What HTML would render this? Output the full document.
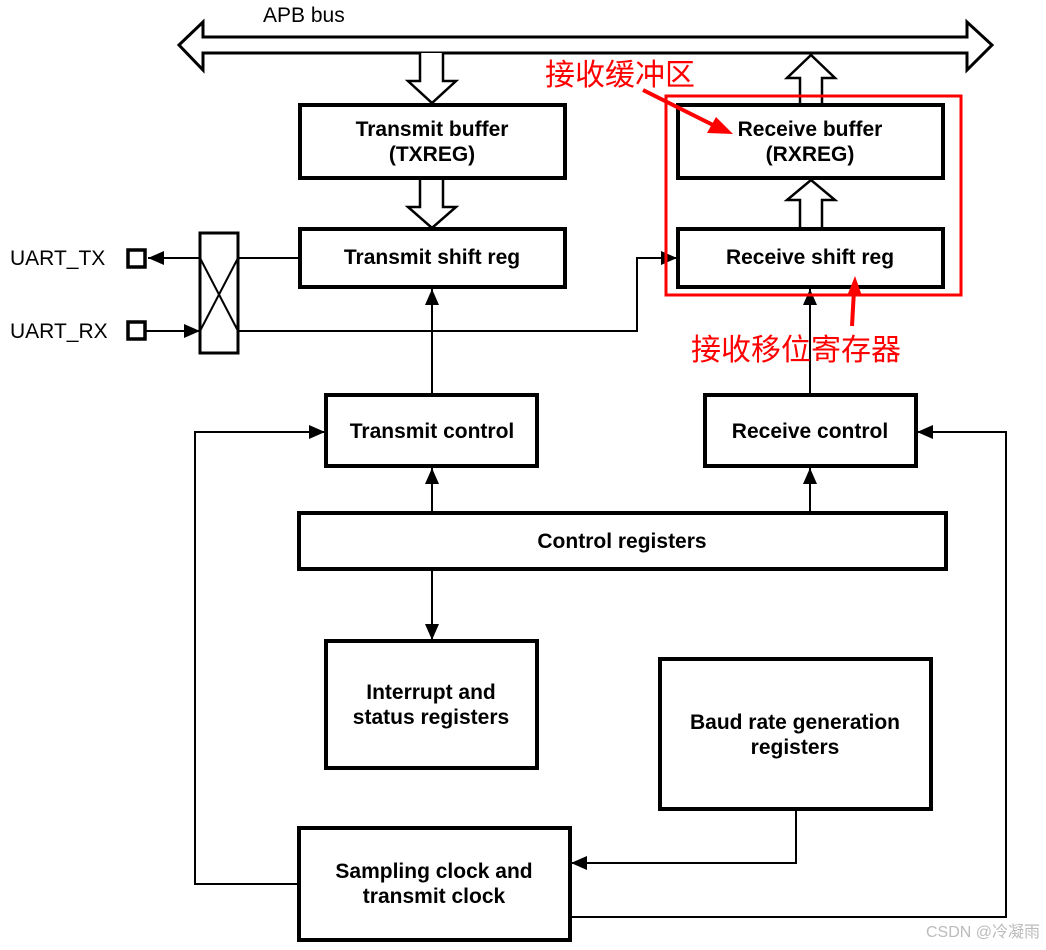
<!DOCTYPE html>
<html><head><meta charset="utf-8"><style>
html,body{margin:0;padding:0;background:#fff;}
svg{display:block;}
.b{font-family:"Liberation Sans",sans-serif;font-weight:bold;font-size:21px;fill:#000;text-anchor:middle;}
.n{font-family:"Liberation Sans",sans-serif;font-size:21px;fill:#000;}
.r{font-family:"Liberation Sans","Noto Sans CJK SC",sans-serif;font-size:30px;fill:#f00;}
</style></head><body>
<svg width="1046" height="950" viewBox="0 0 1046 950" xmlns="http://www.w3.org/2000/svg">
<defs>
<marker id="a" markerWidth="16" markerHeight="14" refX="16" refY="7" orient="auto" markerUnits="userSpaceOnUse" viewBox="0 0 16 14"><path d="M0,0 L16,7 L0,14 z" fill="#000"/></marker>
</defs>
<rect width="1046" height="950" fill="#fff"/>
<text x="263" y="22" class="n">APB bus</text>
<path d="M179,45 L203,22 L203,37 L967,37 L967,22 L992,45 L967,70 L967,53 L203,53 L203,70 Z" fill="#fff" stroke="#000" stroke-width="3"/>
<path d="M420,53 L420,81 L408,81 L432,103 L456,81 L443,81 L443,53" fill="#fff" stroke="#000" stroke-width="2.5"/>
<path d="M420,179 L420,207 L408,207 L432,228 L456,207 L443,207 L443,179" fill="#fff" stroke="#000" stroke-width="2.5"/>
<path d="M800,105 L800,78 L787,78 L811,55 L835,78 L822,78 L822,105" fill="#fff" stroke="#000" stroke-width="2.5"/>
<path d="M800,229 L800,200 L787,200 L811,180 L835,200 L822,200 L822,229" fill="#fff" stroke="#000" stroke-width="2.5"/>
<g fill="#fff" stroke="#000" stroke-width="4">
<rect x="300" y="105" width="265" height="73"/>
<rect x="300" y="229" width="265" height="58"/>
<rect x="678" y="105" width="265" height="73"/>
<rect x="678" y="229" width="265" height="58"/>
<rect x="326" y="395" width="211" height="71"/>
<rect x="705" y="395" width="211" height="71"/>
<rect x="299" y="513" width="647" height="56"/>
<rect x="326" y="641" width="211" height="127"/>
<rect x="660" y="659" width="271" height="150"/>
<rect x="299" y="828" width="271" height="112"/>
<rect x="128" y="250" width="17" height="17" stroke-width="3.5"/>
<rect x="128" y="322" width="17" height="17" stroke-width="3.5"/>
<rect x="200" y="233" width="38" height="120" stroke-width="3"/>
</g>
<g stroke="#000" stroke-width="2" fill="none">
<line x1="200" y1="258" x2="238" y2="331"/>
<line x1="238" y1="258" x2="200" y2="331"/>
<line x1="300" y1="258" x2="238" y2="258"/>
<line x1="200" y1="258" x2="148" y2="258" marker-end="url(#a)"/>
<line x1="146" y1="331" x2="200" y2="331" marker-end="url(#a)"/>
<polyline points="238,331 637,331 637,258 677,258" marker-end="url(#a)"/>
<line x1="432" y1="395" x2="432" y2="289" marker-end="url(#a)"/>
<line x1="810" y1="395" x2="810" y2="289" marker-end="url(#a)"/>
<line x1="432" y1="513" x2="432" y2="468" marker-end="url(#a)"/>
<line x1="810" y1="513" x2="810" y2="468" marker-end="url(#a)"/>
<line x1="432" y1="569" x2="432" y2="640" marker-end="url(#a)"/>
<polyline points="796,809 796,863 571,863" marker-end="url(#a)"/>
<polyline points="299,884 195,884 195,432 325,432" marker-end="url(#a)"/>
<polyline points="570,917 1006,917 1006,432 917,432" marker-end="url(#a)"/>
</g>
<text x="432" y="136" class="b">Transmit buffer</text>
<text x="432" y="161" class="b">(TXREG)</text>
<text x="432" y="264" class="b">Transmit shift reg</text>
<text x="810" y="136" class="b">Receive buffer</text>
<text x="810" y="161" class="b">(RXREG)</text>
<text x="810" y="264" class="b">Receive shift reg</text>
<text x="432" y="438" class="b">Transmit control</text>
<text x="810" y="438" class="b">Receive control</text>
<text x="622" y="548" class="b">Control registers</text>
<text x="431" y="699" class="b">Interrupt and</text>
<text x="431" y="724" class="b">status registers</text>
<text x="795" y="729" class="b">Baud rate generation</text>
<text x="795" y="754" class="b">registers</text>
<text x="434" y="878" class="b">Sampling clock and</text>
<text x="434" y="903" class="b">transmit clock</text>
<text x="10" y="265" class="n">UART_TX</text>
<text x="10" y="338" class="n">UART_RX</text>
<rect x="666" y="96" width="295" height="199" fill="none" stroke="#f00" stroke-width="3"/>
<text x="545" y="85" class="r">接收缓冲区</text>
<line x1="643" y1="90" x2="715" y2="126" stroke="#f00" stroke-width="4"/>
<path d="M733,134 L707,133 L716,117 Z" fill="#f00"/>
<text x="691" y="360" class="r">接收移位寄存器</text>
<line x1="852" y1="326" x2="854" y2="290" stroke="#f00" stroke-width="4"/>
<path d="M855,276 L847,296 L862,296 Z" fill="#f00"/>
<text x="1040" y="937" style="font-family:'Liberation Sans','Noto Sans CJK SC',sans-serif;font-size:16px;fill:#bbb;text-anchor:end">CSDN @冷凝雨</text>
</svg>
</body></html>
